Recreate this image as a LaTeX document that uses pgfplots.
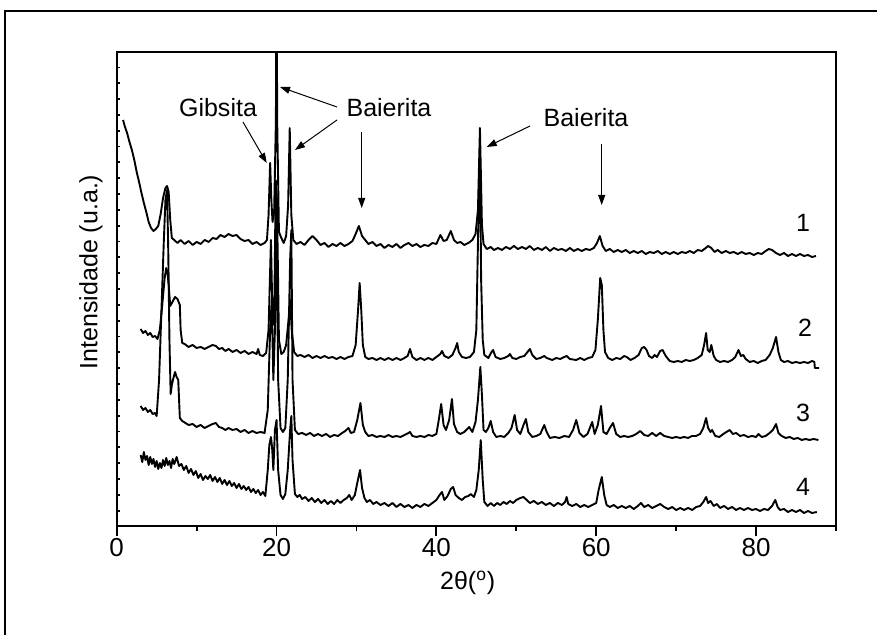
\documentclass[border=0pt]{standalone}
\usepackage{fontspec}
\setmainfont{Liberation Sans}
\usepackage{pgfplots}
\pgfplotsset{compat=1.18}
\usetikzlibrary{arrows.meta}

% traces: 2theta, pixel row in the original figure (converted with y expr)
\newcommand{\fnt}{\fontsize{12.5}{15}\selectfont}
\tikzset{tr/.style={black, line width=0.95pt, line join=round, no markers}}

\begin{document}
\begin{tikzpicture}
\useasboundingbox (0,0) rectangle (438.5pt,317.5pt);
\begin{axis}[
  at={(58.35pt,54.25pt)}, anchor=south west,
  scale only axis, width=359.65pt, height=237.45pt,
  xmin=0, xmax=90, ymin=0, ymax=474.9,
  xtick={0,20,...,80}, minor xtick={10,30,...,90},
  ytick=\empty,
  extra y ticks={15.83,31.66,...,459.1},
  extra y tick labels={},
  extra y tick style={tick align=inside, major tick length=1.5pt},
  tick align=outside, major tick length=5pt, minor tick length=2.5pt,
  xtick pos=left, ytick pos=left,
  axis line style={line width=1pt},
  tick style={line width=0.9pt, black},
  /pgf/number format/assume math mode=true,
  tick label style={font=\fontsize{13}{15}\selectfont},
  xticklabel style={yshift=2.5pt},
  xlabel={2θ(\textsuperscript{o})}, ylabel={Intensidade (u.a.)},
  label style={font=\fnt},
  xlabel style={at={(axis description cs:0.488,-0.119)}, anchor=center},
  ylabel style={at={(axis description cs:-0.036,0.536)}, anchor=center, rotate=0},
]
% trace 1
\addplot[tr] table[x=t, y expr=526.5-\thisrow{p}] {
t p
0.8 120
1.0 126
1.3 133
1.6 142
1.9 150
2.2 160
2.5 172
2.8 182
3.1 193
3.4 203
3.7 212
4.0 222
4.3 228
4.6 231
4.9 229
5.2 226
5.5 214
5.8 198
6.1 188
6.3 186
6.5 192
6.7 220
6.9 238
7.2 240
7.6 243
8.0 240
8.5 244
9.0 241
9.5 245
10.0 242
10.5 244
11.0 240
11.5 242
12.0 238
12.5 239
13.0 235
13.5 237
14.0 234
14.5 236
15.0 235
15.5 239
16.0 241
16.5 240
17.0 244
17.5 242
18.0 245
18.5 243
18.8 240
19.0 215
19.2 163
19.35 200
19.5 222
19.7 212
19.92 120
20.0 -60
20.08 120
20.3 232
20.6 238
20.9 243
21.2 236
21.45 205
21.65 128
21.85 215
22.1 240
22.5 244
23.0 242
23.5 245
24.0 240
24.5 236
25.0 240
25.5 245
26.0 243
26.5 247
27.0 244
27.5 246
28.0 243
28.5 246
29.0 244
29.5 241
29.9 234
30.3 226
30.7 236
31.1 240
31.5 244
32.0 242
32.5 246
33.0 244
33.5 248
34.0 245
34.5 247
35.0 244
35.5 248
36.0 245
36.5 243
37.0 246
37.5 244
38.0 247
38.5 245
39.0 246
39.5 243
40.0 244
40.5 235
40.9 241
41.3 240
41.8 231
42.2 240
42.6 243
43.0 242
43.5 245
44.0 243
44.5 240
44.9 234
45.2 210
45.45 128
45.7 225
45.9 244
46.3 249
46.8 247
47.2 250
47.7 248
48.2 250
48.7 247
49.2 249
49.7 246
50.2 249
50.7 247
51.2 249
51.7 246
52.2 250
52.7 248
53.2 250
53.7 247
54.2 251
54.7 248
55.2 250
55.7 249
56.2 251
56.7 248
57.2 251
57.7 249
58.2 251
58.7 249
59.2 250
59.7 248
60.1 243
60.45 236
60.8 246
61.2 251
61.7 249
62.2 252
62.7 250
63.2 252
63.7 250
64.2 253
64.7 251
65.2 253
65.7 251
66.2 254
66.7 252
67.2 253
67.7 251
68.2 254
68.7 252
69.2 254
69.7 252
70.2 254
70.7 252
71.2 253
71.7 251
72.2 253
72.7 250
73.2 251
73.7 248
74.0 246
74.4 248
74.8 252
75.2 250
75.7 253
76.2 251
76.7 253
77.2 252
77.7 254
78.2 252
78.7 254
79.2 253
79.7 255
80.2 253
80.7 254
81.2 251
81.6 249
82.0 250
82.5 253
83.0 255
83.5 253
84.0 256
84.5 254
85.0 256
85.5 254
86.0 256
86.5 255
87.0 257
87.5 256
};
% trace 2
\addplot[tr] table[x=t, y expr=526.5-\thisrow{p}] {
t p
3.0 329
3.3 333
3.6 331
3.9 335
4.2 333
4.5 337
4.8 336
5.1 339
5.4 330
5.7 305
6.0 278
6.2 268
6.35 272
6.5 285
6.7 306
6.9 303
7.1 300
7.3 297
7.6 299
7.9 305
8.0 330
8.2 343
8.5 344
9.0 347
9.5 345
10.0 348
10.5 347
11.0 349
11.5 347
12.0 345
12.4 346
12.8 349
13.2 348
13.6 351
14.0 349
14.5 352
15.0 350
15.5 353
16.0 351
16.5 354
17.0 352
17.5 354
17.7 349
17.9 355
18.3 356
18.7 353
19.0 330
19.3 240
19.5 320
19.7 325
19.9 180
20.05 200
20.3 340
20.6 354
20.9 352
21.2 345
21.5 320
21.7 300
21.9 330
22.2 352
22.6 356
23.0 355
23.5 357
24.0 355
24.5 358
25.0 356
25.5 358
26.0 356
26.5 358
27.0 357
27.5 359
28.0 357
28.5 359
29.0 357
29.5 356
29.9 345
30.2 310
30.4 283
30.6 310
30.8 345
31.1 357
31.5 359
32.0 358
32.5 360
33.0 358
33.5 360
34.0 358
34.5 360
35.0 358
35.5 360
36.0 358
36.4 356
36.7 349
37.0 357
37.5 360
38.0 358
38.5 360
39.0 358
39.5 360
40.0 357
40.5 354
40.7 351
41.0 356
41.5 358
42.0 355
42.4 348
42.6 343
42.8 352
43.2 357
43.7 358
44.2 357
44.7 352
45.0 330
45.3 200
45.45 150
45.6 280
45.8 340
46.0 355
46.5 358
46.9 352
47.1 350
47.4 357
48.0 359
48.5 358
49.0 356
49.2 354
49.5 358
50.0 359
50.5 357
51.0 356
51.5 351
51.7 349
52.0 355
52.5 359
53.0 358
53.5 356
53.8 358
54.5 360
55.0 358
55.5 359
56.0 357
56.3 356
56.7 359
57.5 360
58.0 358
58.5 360
59.0 358
59.5 357
59.9 350
60.2 320
60.5 278
60.7 285
60.9 330
61.1 352
61.5 358
62.0 360
62.5 358
63.0 359
63.5 356
63.8 357
64.3 360
64.8 358
65.3 355
65.7 348
66.0 347
66.3 350
66.6 356
67.0 358
67.3 355
67.6 357
68.0 351
68.3 350
68.7 356
69.2 361
69.7 362
70.2 361
70.7 362
71.2 360
71.7 361
72.2 360
72.7 358
73.2 355
73.5 345
73.75 333
73.95 350
74.2 352
74.4 345
74.7 356
75.0 360
75.5 362
76.0 361
76.5 362
77.0 360
77.4 357
77.8 350
78.1 356
78.4 355
78.7 359
79.2 362
79.7 361
80.2 363
80.7 361
81.2 360
81.7 355
82.1 348
82.5 337
82.8 352
83.1 360
83.5 362
84.0 361
84.5 363
85.0 362
85.5 363
86.0 362
86.5 363
87.0 361
87.3 362
87.35 368
87.9 368
};
% trace 3
\addplot[tr] table[x=t, y expr=526.5-\thisrow{p}] {
t p
3.0 406
3.3 410
3.6 408
3.9 412
4.2 410
4.5 414
4.8 413
5.0 416
5.3 380
5.6 310
5.9 240
6.1 200
6.3 190
6.45 250
6.6 340
6.75 394
6.9 385
7.1 378
7.3 372
7.5 377
7.7 380
7.9 418
8.2 421
8.6 423
9.0 425
9.5 424
10.0 427
10.5 425
11.0 428
11.5 426
12.0 424
12.4 423
12.8 427
13.2 428
13.6 430
14.0 428
14.5 430
15.0 429
15.5 432
16.0 430
16.5 433
17.0 431
17.5 433
18.0 432
18.5 433
18.9 410
19.2 330
19.4 300
19.6 380
19.8 330
20.0 220
20.2 380
20.5 428
20.8 432
21.1 428
21.4 380
21.7 260
21.85 230
22.0 380
22.3 430
22.7 434
23.2 433
23.7 435
24.2 433
24.7 436
25.2 434
25.7 436
26.2 434
26.7 437
27.2 435
27.7 436
28.2 433
28.6 431
29.0 428
29.3 433
29.7 432
30.1 420
30.5 403
30.8 425
31.1 432
31.5 436
32.0 435
32.5 437
33.0 436
33.5 437
34.0 435
34.5 437
35.0 436
35.5 437
36.0 435
36.5 433
36.7 432
37.0 436
37.5 437
38.0 436
38.5 437
39.0 435
39.5 436
40.0 434
40.3 420
40.6 404
40.9 425
41.2 430
41.6 420
41.95 399
42.2 424
42.6 432
43.0 434
43.5 432
44.1 427
44.5 432
44.9 422
45.2 400
45.5 367
45.7 395
45.9 430
46.2 432
46.5 428
46.8 421
47.1 432
47.5 437
48.0 436
48.5 437
49.0 433
49.4 428
49.8 415
50.1 430
50.5 434
50.9 425
51.2 419
51.5 432
52.0 437
52.5 436
53.0 434
53.5 425
53.8 432
54.2 438
54.8 437
55.4 438
56.0 436
56.6 437
57.1 430
57.5 420
57.9 433
58.4 437
58.9 434
59.2 428
59.5 422
59.8 434
60.2 425
60.6 406
60.9 432
61.3 434
61.7 428
62.1 423
62.5 434
63.0 437
63.5 436
64.0 437
64.5 436
65.0 434
65.5 431
66.0 435
66.5 436
67.0 433
67.5 436
68.0 433
68.5 436
69.0 437
69.5 438
70.0 437
70.5 438
71.0 437
71.5 438
72.0 436
72.5 436
73.0 434
73.4 428
73.75 418
74.0 428
74.3 432
74.5 430
74.9 436
75.4 437
75.9 434
76.3 432
76.7 430
77.1 434
77.5 433
78.0 436
78.5 435
79.0 437
79.5 436
80.0 437
80.3 434
80.7 437
81.2 436
81.7 433
82.1 430
82.5 424
82.8 433
83.2 436
83.7 438
84.2 437
84.7 439
85.2 438
85.7 440
86.2 439
86.7 440
87.2 439
87.8 440
};
% trace 4
\addplot[tr] table[x=t, y expr=526.5-\thisrow{p}] {
t p
3.0 455
3.2 462
3.4 452
3.6 460
3.8 456
4.0 465
4.2 457
4.4 464
4.6 459
4.8 467
5.0 461
5.2 469
5.4 463
5.6 468
5.8 460
6.0 466
6.2 458
6.4 465
6.6 461
6.8 468
7.0 459
7.2 464
7.5 457
7.8 466
8.1 464
8.4 470
8.7 466
9.0 473
9.3 469
9.6 475
9.9 471
10.2 478
10.5 474
10.8 480
11.1 476
11.4 479
11.7 475
12.0 481
12.3 477
12.6 482
12.9 478
13.2 484
13.5 480
13.8 485
14.1 481
14.4 486
14.7 483
15.0 488
15.3 484
15.6 489
15.9 486
16.2 490
16.5 487
16.8 492
17.1 489
17.4 493
17.7 490
18.0 495
18.3 492
18.6 496
18.9 470
19.1 445
19.3 437
19.45 448
19.6 470
19.8 430
20.0 420
20.2 470
20.5 495
20.8 499
21.1 494
21.4 470
21.7 430
21.85 416
22.0 460
22.3 494
22.6 497
22.9 495
23.2 499
23.6 497
24.0 501
24.4 498
24.8 502
25.2 499
25.6 503
26.0 500
26.4 504
26.8 501
27.2 504
27.6 500
28.0 503
28.4 500
28.8 498
29.1 495
29.4 500
29.8 495
30.1 483
30.45 470
30.7 488
31.0 498
31.3 502
31.7 500
32.1 504
32.5 502
33.0 505
33.5 503
34.0 506
34.5 503
35.0 507
35.5 504
36.0 507
36.5 505
37.0 508
37.5 505
38.0 507
38.5 504
39.0 506
39.5 503
40.0 500
40.4 495
40.7 492
41.0 500
41.4 496
41.8 489
42.1 487
42.4 495
42.8 498
43.2 500
43.6 497
44.0 496
44.3 494
44.7 497
45.0 490
45.3 470
45.55 440
45.8 480
46.0 502
46.4 506
46.8 503
47.2 506
47.6 503
48.0 505
48.4 502
48.8 504
49.2 501
49.6 503
50.0 500
50.5 498
50.9 497
51.3 500
51.7 503
52.2 501
52.7 504
53.2 502
53.7 505
54.2 503
54.7 506
55.2 503
55.7 505
56.1 502
56.3 497
56.5 504
57.0 506
57.5 504
58.0 507
58.5 505
59.0 507
59.5 505
60.0 503
60.3 490
60.7 477
61.0 495
61.3 505
61.7 507
62.2 505
62.7 508
63.2 506
63.7 508
64.2 506
64.7 509
65.2 506
65.6 503
66.0 507
66.5 505
67.0 508
67.5 506
68.0 504
68.5 507
69.0 509
69.5 507
70.0 510
70.5 508
71.0 510
71.5 508
72.0 510
72.5 507
73.0 506
73.4 502
73.75 497
74.0 503
74.3 501
74.7 506
75.1 504
75.5 508
76.0 506
76.5 509
77.0 507
77.5 510
78.0 508
78.5 510
79.0 508
79.5 510
80.0 509
80.5 511
81.0 509
81.5 510
82.0 506
82.4 500
82.7 507
83.0 510
83.5 509
84.0 512
84.5 510
85.0 512
85.5 510
86.0 513
86.5 511
87.0 513
87.6 512
};
\end{axis}
% annotations in pixel coordinates of the original figure
\begin{scope}[shift={(0,317.5pt)}, x=0.5pt, y=-0.5pt, font=\fnt]
\draw[line width=1pt] (5,640) -- (5,10.7) -- (880,10.7);
\tikzset{arr/.style={line width=0.5pt, -{Triangle[length=5pt,width=3.5pt]}}}
\node at (218,108) {Gibsita};
\draw[arr] (243,122) -- (266.7,163);
\node at (389,108) {Baierita};
\draw[arr] (337,107) -- (280,87);
\draw[arr] (337,120) -- (295,150);
\draw[arr] (361.7,132) -- (361.7,208);
\node at (586,118) {Baierita};
\draw[arr] (530,126) -- (486.7,147);
\draw[arr] (601.7,144) -- (601.7,205);
\node at (803,223) {1};
\node at (805,328) {2};
\node at (803,413) {3};
\node at (803,487) {4};
\end{scope}
\end{tikzpicture}
\end{document}
